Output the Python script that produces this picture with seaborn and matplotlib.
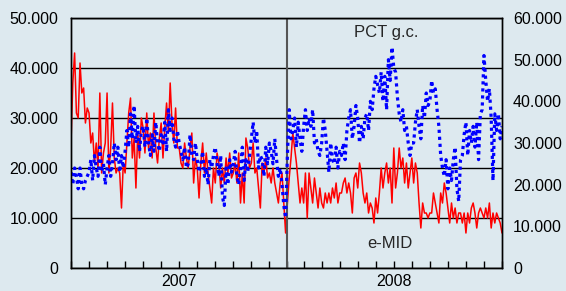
import numpy as np
import pandas as pd
import matplotlib.pyplot as plt
import seaborn as sns
from matplotlib.ticker import FuncFormatter

# e-MID volumes (left axis, thousands), 10 readings per month, Jan 2007 -> Dec 2008
emid_2007 = [25, 37, 43, 31, 30, 41, 35, 36, 29, 32,
             31, 25, 27, 21, 25, 20, 35, 19, 23, 25,
             35, 19, 24, 33, 22, 19, 20, 19, 12, 21,
             19, 25, 31, 34, 22, 26, 16, 27, 22, 30,
             28, 23, 31, 24, 27, 22, 31, 24, 21, 26,
             29, 22, 28, 33, 27, 37, 29, 25, 32, 24,
             24, 21, 20, 25, 22, 20, 24, 27, 17, 22,
             20, 14, 21, 25, 19, 23, 19, 16, 13, 20,
             17, 23, 21, 16, 20, 17, 22, 19, 23, 18,
             19, 21, 17, 23, 13, 19, 13, 26, 24, 20,
             21, 25, 19, 20, 16, 12, 21, 19, 22, 18,
             19, 17, 20, 17, 15, 13, 17, 19, 13, 7]
emid_2008 = [13, 18, 22, 27, 24, 21, 17, 13, 16, 13,
             19, 10, 19, 16, 13, 18, 15, 12, 16, 13,
             12, 15, 13, 15, 13, 16, 14, 17, 13, 15,
             15, 17, 18, 15, 17, 15, 11, 18, 19, 16,
             21, 19, 15, 13, 15, 11, 13, 12, 9, 14,
             11, 15, 20, 16, 19, 21, 17, 20, 13, 24,
             16, 19, 24, 20, 22, 17, 21, 16, 19, 22,
             17, 21, 19, 13, 8, 13, 11, 11, 10, 11,
             11, 15, 13, 11, 9, 15, 13, 17, 15, 12,
             9, 13, 10, 12, 9, 11, 11, 9, 11, 7,
             11, 9, 12, 13, 11, 8, 11, 12, 11, 10,
             12, 10, 13, 8, 11, 9, 11, 10, 9, 7]

# PCT general collateral (right axis, thousands)
pct_2007 = [23, 20, 24, 22, 19, 24, 20, 19, 21, 22,
            23, 26, 21, 27, 24, 22, 29, 23, 25, 20,
            24, 27, 22, 25, 30, 26, 29, 23, 27, 24,
            28, 33, 29, 37, 31, 39, 30, 34, 28, 33,
            34, 29, 36, 30, 27, 32, 28, 35, 30, 28,
            32, 30, 35, 28, 38, 33, 36, 31, 29, 33,
            30, 28, 26, 29, 24, 25, 32, 27, 26, 30,
            26, 23, 25, 28, 22, 24, 20, 26, 24, 27,
            29, 25, 22, 27, 17, 15, 24, 20, 26, 23,
            25, 28, 22, 20, 24, 29, 21, 26, 23, 27,
            31, 35, 30, 33, 24, 27, 26, 22, 29, 25,
            30, 28, 25, 31, 26, 22, 24, 20, 15, 12]
pct_2008 = [27, 38, 31, 33, 36, 29, 35, 31, 28, 34,
            38, 33, 36, 34, 38, 30, 31, 28, 27, 30,
            36, 33, 28, 23, 30, 26, 25, 29, 24, 28,
            27, 30, 26, 33, 36, 38, 31, 34, 39, 36,
            30, 34, 31, 36, 37, 33, 40, 38, 43, 46,
            44, 42, 47, 40, 46, 38, 50, 45, 53, 48,
            47, 41, 37, 35, 38, 33, 34, 30, 27, 30,
            30, 35, 38, 34, 31, 39, 36, 42, 39, 40,
            45, 42, 43, 38, 34, 27, 24, 22, 26, 19,
            24, 21, 26, 29, 19, 16, 26, 27, 32, 35,
            27, 33, 30, 34, 29, 35, 26, 37, 38, 51,
            45, 40, 43, 36, 21, 37, 33, 37, 31, 34]

years = ['2007', '2008']

emid = emid_2007 + emid_2008
pct = pct_2007 + pct_2008
df = pd.DataFrame({'month': np.linspace(0, 24, len(emid)), 'emid': emid, 'pct': pct})

bg = '#dde9ef'
sns.set_style('white')
plt.rcParams['font.family'] = ['Liberation Sans', 'DejaVu Sans']

fig = plt.figure(figsize=(5.66, 2.91), dpi=100, facecolor=bg)
ax = fig.add_axes([71/566, 23/291, 431/566, 250/291])
ax.set_facecolor(bg)
ax2 = ax.twinx()

sns.lineplot(data=df, x='month', y='emid', color='#ff0000', lw=1.1, ax=ax)
sns.lineplot(data=df, x='month', y='pct', color='#0000ff', lw=2.3,
             linestyle=(0, (1, 1.2)), ax=ax2)

ax.set_xlim(0, 24)
ax.set_ylim(0, 50)
ax2.set_ylim(0, 60)
ax.set_yticks(range(0, 51, 10))
ax2.set_yticks(range(0, 61, 10))
fmt = FuncFormatter(lambda v, p: '0' if v == 0 else f'{v:.0f}.000')
ax.yaxis.set_major_formatter(fmt)
ax2.yaxis.set_major_formatter(fmt)

ax.set_axisbelow(True)
ax.yaxis.grid(True, color='black', lw=1)
ax.axvline(12, color='#555555', lw=1.5)

# monthly ticks, year label under the mid-year tick
month_labels = [''] * 25
month_labels[6] = years[0]
month_labels[18] = years[1]
ax.set_xticks(range(0, 25))
ax.set_xticklabels(month_labels)
ax.tick_params(axis='x', bottom=True, labelbottom=True, direction='in', length=5,
               width=1, color='black', pad=4, labelsize=11.5, labelcolor='black')
ax.tick_params(axis='y', length=0, pad=9, labelsize=11.5, labelcolor='black')
ax2.tick_params(axis='y', length=0, pad=8, labelsize=11.5, labelcolor='black')

ax.set_xlabel('')
ax.set_ylabel('')
ax2.set_ylabel('')
for a in (ax, ax2):
    for s in a.spines.values():
        s.set_color('black')
        s.set_linewidth(1)

ax.text(17.55, 47, 'PCT g.c.', fontsize=12, ha='center', va='center')
ax.text(17.75, 4.8, 'e-MID', fontsize=12, ha='center', va='center')

plt.savefig('out.png', dpi=100, facecolor=bg)
